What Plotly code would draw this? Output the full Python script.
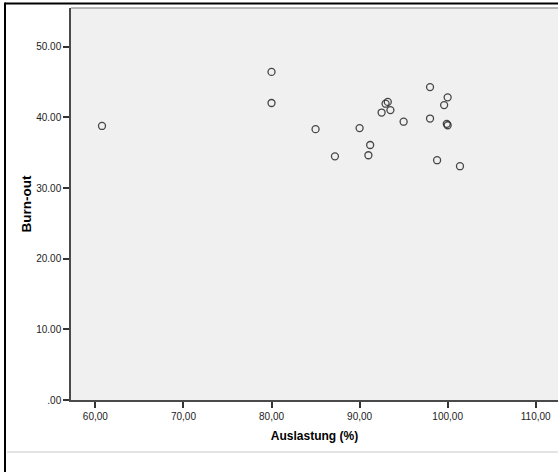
import plotly.graph_objects as go

# Auslastung (%) vs. Burn-out score, one point per case
auslastung = [60.75, 80.0, 80.0, 85.0, 87.2, 90.0, 91.2, 91.0, 92.5, 92.95,
              93.2, 93.5, 95.0, 98.0, 98.0, 100.0, 99.6, 99.9, 100.0, 98.8, 101.4]
burnout = [38.8, 46.45, 42.05, 38.35, 34.5, 38.5, 36.1, 34.65, 40.7, 41.95,
           42.2, 41.05, 39.4, 44.3, 39.85, 42.85, 41.75, 39.1, 38.9, 33.95, 33.1]

x_tickvals = [60, 70, 80, 90, 100, 110]
x_ticktext = ["60,00", "70,00", "80,00", "90,00", "100,00", "110,00"]
y_tickvals = [0, 10, 20, 30, 40, 50]
y_ticktext = [".00", "10.00", "20.00", "30.00", "40.00", "50.00"]

W, H = 558, 472
FONT = "Liberation Sans, Arial, sans-serif"

fig = go.Figure()
fig.add_trace(go.Scatter(
    x=auslastung, y=burnout, mode="markers",
    marker=dict(symbol="circle-open", size=7, color="rgba(40,40,40,0.85)",
                line=dict(width=1.3, color="rgba(40,40,40,0.85)")),
    hoverinfo="x+y", showlegend=False,
))

axis_common = dict(
    showgrid=False, zeroline=False, showline=True, linecolor="#4a4a4a", linewidth=1.5,
    ticks="outside", ticklen=6, tickwidth=1.5, tickcolor="#333",
    tickfont=dict(family=FONT, size=10, color="#222"),
)

fig.update_layout(
    width=W, height=H,
    margin=dict(l=71, r=0, t=8, b=72),
    paper_bgcolor="white", plot_bgcolor="#f0f0f0",
    xaxis=dict(range=[57.23, 112.53], tickvals=x_tickvals, ticktext=x_ticktext,
               title=dict(text="<b>Auslastung (%)</b>", standoff=11,
                          font=dict(family=FONT, size=12, color="#000")),
               **axis_common),
    yaxis=dict(range=[0, 55.5], tickvals=y_tickvals, ticktext=y_ticktext,
               title=dict(text="<b>Burn-out</b>", standoff=1,
                          font=dict(family=FONT, size=13.5, color="#000")),
               **axis_common),
    shapes=[
        # grey top edge of the plot area
        dict(type="line", xref="paper", yref="paper", x0=0, x1=1, y0=1, y1=1,
             line=dict(color="#a0a0a0", width=1.5)),
        # outer frame: top and left black border
        dict(type="line", xref="paper", yref="paper",
             x0=-66 / 487, x1=1.0, y0=1 + 4.5 / 392, y1=1 + 4.5 / 392,
             line=dict(color="#000", width=2)),
        dict(type="line", xref="paper", yref="paper",
             x0=-66 / 487, x1=-66 / 487, y0=-72 / 392, y1=1 + 5.5 / 392,
             line=dict(color="#000", width=2)),
        # light grey separator at the bottom
        dict(type="line", xref="paper", yref="paper",
             x0=-64 / 487, x1=1.0, y0=-52 / 392, y1=-52 / 392,
             line=dict(color="#c8c8c8", width=1)),
    ],
)

fig.write_html("out.html")
